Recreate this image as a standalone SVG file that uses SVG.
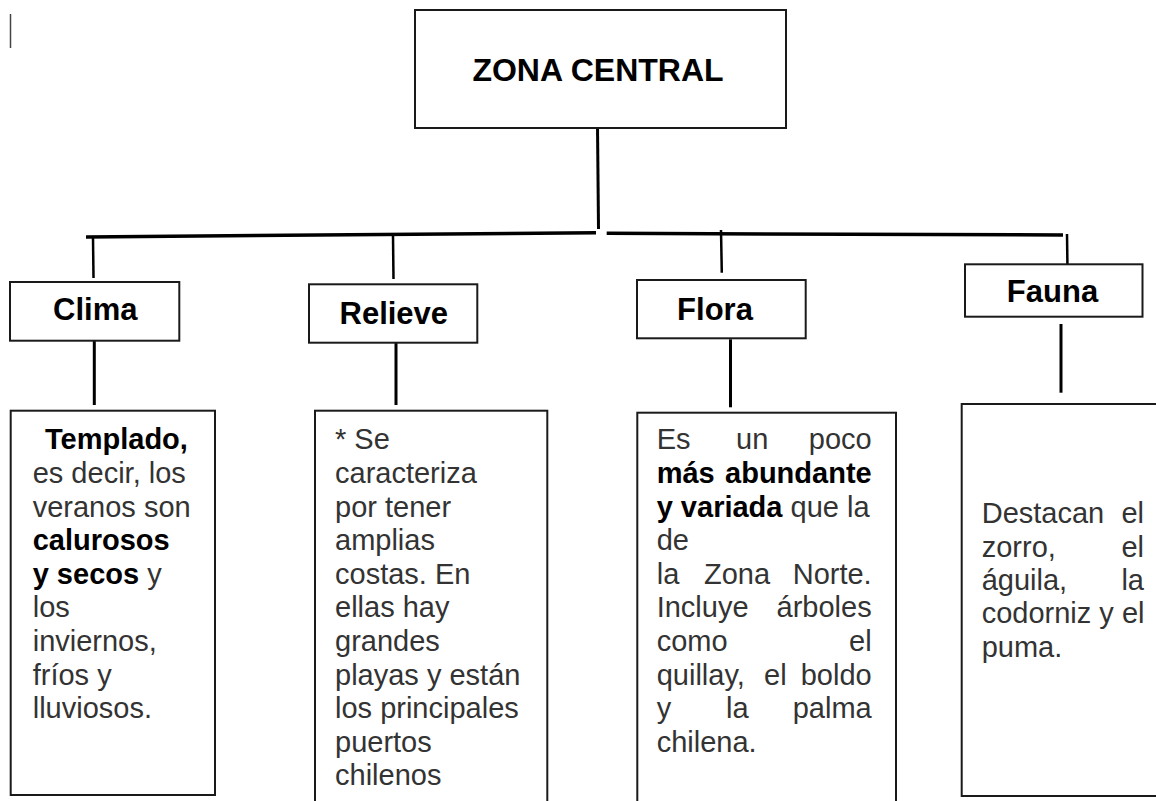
<svg xmlns="http://www.w3.org/2000/svg" width="1156" height="801" viewBox="0 0 1156 801">
<style>
  .box { fill: #fff; stroke: #1a1a1a; stroke-width: 2; }
  .title { font-family: "Liberation Sans", Arial, sans-serif; font-weight: bold; fill: #000; text-anchor: middle; }
  .body { font-family: "Liberation Sans", Arial, sans-serif; font-size: 29px; fill: #333; }
  .b { font-weight: bold; fill: #000; }
  .conn line { stroke: #000; stroke-linecap: butt; }
</style>
<rect x="0" y="0" width="1156" height="801" fill="#fff"/>
<line x1="10.5" y1="14" x2="10.5" y2="48" stroke="#444" stroke-width="1.5"/>

<g id="connectors" class="conn">
  <line x1="597.5" y1="126" x2="598.5" y2="229" stroke-width="3"/>
  <line x1="86" y1="237" x2="596" y2="232.7" stroke-width="3.5"/>
  <line x1="606.7" y1="233.3" x2="1063" y2="235" stroke-width="3.5"/>
  <line x1="93" y1="238" x2="93.5" y2="278" stroke-width="2.5"/>
  <line x1="393" y1="236" x2="393.5" y2="279" stroke-width="2.5"/>
  <line x1="721" y1="230" x2="721.8" y2="272.7" stroke-width="2.5"/>
  <line x1="1067" y1="234" x2="1067.6" y2="276.7" stroke-width="2.5"/>
  <line x1="94.3" y1="337" x2="94.3" y2="405" stroke-width="3"/>
  <line x1="396" y1="337.3" x2="396" y2="405" stroke-width="3"/>
  <line x1="730.5" y1="339.3" x2="730.5" y2="407.3" stroke-width="3"/>
  <line x1="1061" y1="324" x2="1061" y2="392.7" stroke-width="3"/>
</g>

<g id="zona-central">
  <rect class="box" x="415" y="10" width="371" height="118"/>
  <text class="title" x="598" y="80.7" font-size="32">ZONA CENTRAL</text>
</g>

<g id="clima">
  <rect class="box" x="10" y="282" width="169.3" height="58.7"/>
  <text class="title" x="95.3" y="320" font-size="31">Clima</text>
</g>

<g id="relieve">
  <rect class="box" x="309" y="284.3" width="168.3" height="58.4"/>
  <text class="title" x="393.8" y="324.3" font-size="31">Relieve</text>
</g>

<g id="flora">
  <rect class="box" x="637" y="280" width="168.7" height="58.3"/>
  <text class="title" x="715" y="320" font-size="31">Flora</text>
</g>

<g id="fauna">
  <rect class="box" x="965" y="264.3" width="177.5" height="52.4"/>
  <text class="title" x="1052.5" y="301.7" font-size="31">Fauna</text>
</g>

<g id="clima-texto">
  <rect class="box" x="10.7" y="410.7" width="204.3" height="384.3"/>
  <text class="body">
    <tspan class="b" x="45" y="449.3">Templado,</tspan>
    <tspan x="32.7" y="482.9">es decir, los</tspan>
    <tspan x="32.7" y="516.5">veranos son</tspan>
    <tspan class="b" x="32.7" y="550.1">calurosos</tspan>
    <tspan x="32.7" y="583.7"><tspan class="b">y secos</tspan> y</tspan>
    <tspan x="32.7" y="617.3">los</tspan>
    <tspan x="32.7" y="650.9">inviernos,</tspan>
    <tspan x="32.7" y="684.5">fríos y</tspan>
    <tspan x="32.7" y="718.1">lluviosos.</tspan>
  </text>
</g>

<g id="relieve-texto">
  <rect class="box" x="315" y="410.7" width="232.3" height="395"/>
  <text class="body">
    <tspan x="335" y="449.3">* Se</tspan>
    <tspan x="335" y="482.9">caracteriza</tspan>
    <tspan x="335" y="516.5">por tener</tspan>
    <tspan x="335" y="550.1">amplias</tspan>
    <tspan x="335" y="583.7">costas. En</tspan>
    <tspan x="335" y="617.3">ellas hay</tspan>
    <tspan x="335" y="650.9">grandes</tspan>
    <tspan x="335" y="684.5">playas y están</tspan>
    <tspan x="335" y="718.1">los principales</tspan>
    <tspan x="335" y="751.7">puertos</tspan>
    <tspan x="335" y="785.3">chilenos</tspan>
  </text>
</g>

<g id="flora-texto">
  <rect class="box" x="637.3" y="412.7" width="258.7" height="395"/>
  <g class="body">
    <text x="656.7" y="449.3">Es</text>
    <text x="736" y="449.3">un</text>
    <text x="871.7" y="449.3" text-anchor="end">poco</text>
    <text class="b" x="656.7" y="482.9">más</text>
    <text class="b" x="871.7" y="482.9" text-anchor="end">abundante</text>
    <text x="656.7" y="516.5"><tspan class="b">y variada</tspan> que la</text>
    <text x="656.7" y="550.1">de</text>
    <text x="656.7" y="583.7">la</text>
    <text x="704" y="583.7">Zona</text>
    <text x="871.7" y="583.7" text-anchor="end">Norte.</text>
    <text x="656.7" y="617.3">Incluye</text>
    <text x="871.7" y="617.3" text-anchor="end">árboles</text>
    <text x="656.7" y="650.9">como</text>
    <text x="871.7" y="650.9" text-anchor="end">el</text>
    <text x="656.7" y="684.5">quillay,</text>
    <text x="764" y="684.5">el</text>
    <text x="871.7" y="684.5" text-anchor="end">boldo</text>
    <text x="656.7" y="718.1">y</text>
    <text x="726" y="718.1">la</text>
    <text x="871.7" y="718.1" text-anchor="end">palma</text>
    <text x="656.7" y="751.7">chilena.</text>
  </g>
</g>

<g id="fauna-texto">
  <rect class="box" x="961.7" y="404" width="200" height="392"/>
  <g class="body">
    <text x="981.7" y="523.3">Destacan</text>
    <text x="1144" y="523.3" text-anchor="end">el</text>
    <text x="981.7" y="556.7">zorro,</text>
    <text x="1144" y="556.7" text-anchor="end">el</text>
    <text x="981.7" y="590">águila,</text>
    <text x="1144" y="590" text-anchor="end">la</text>
    <text x="981.7" y="623.4">codorniz y el</text>
    <text x="981.7" y="656.8">puma.</text>
  </g>
</g>
</svg>
